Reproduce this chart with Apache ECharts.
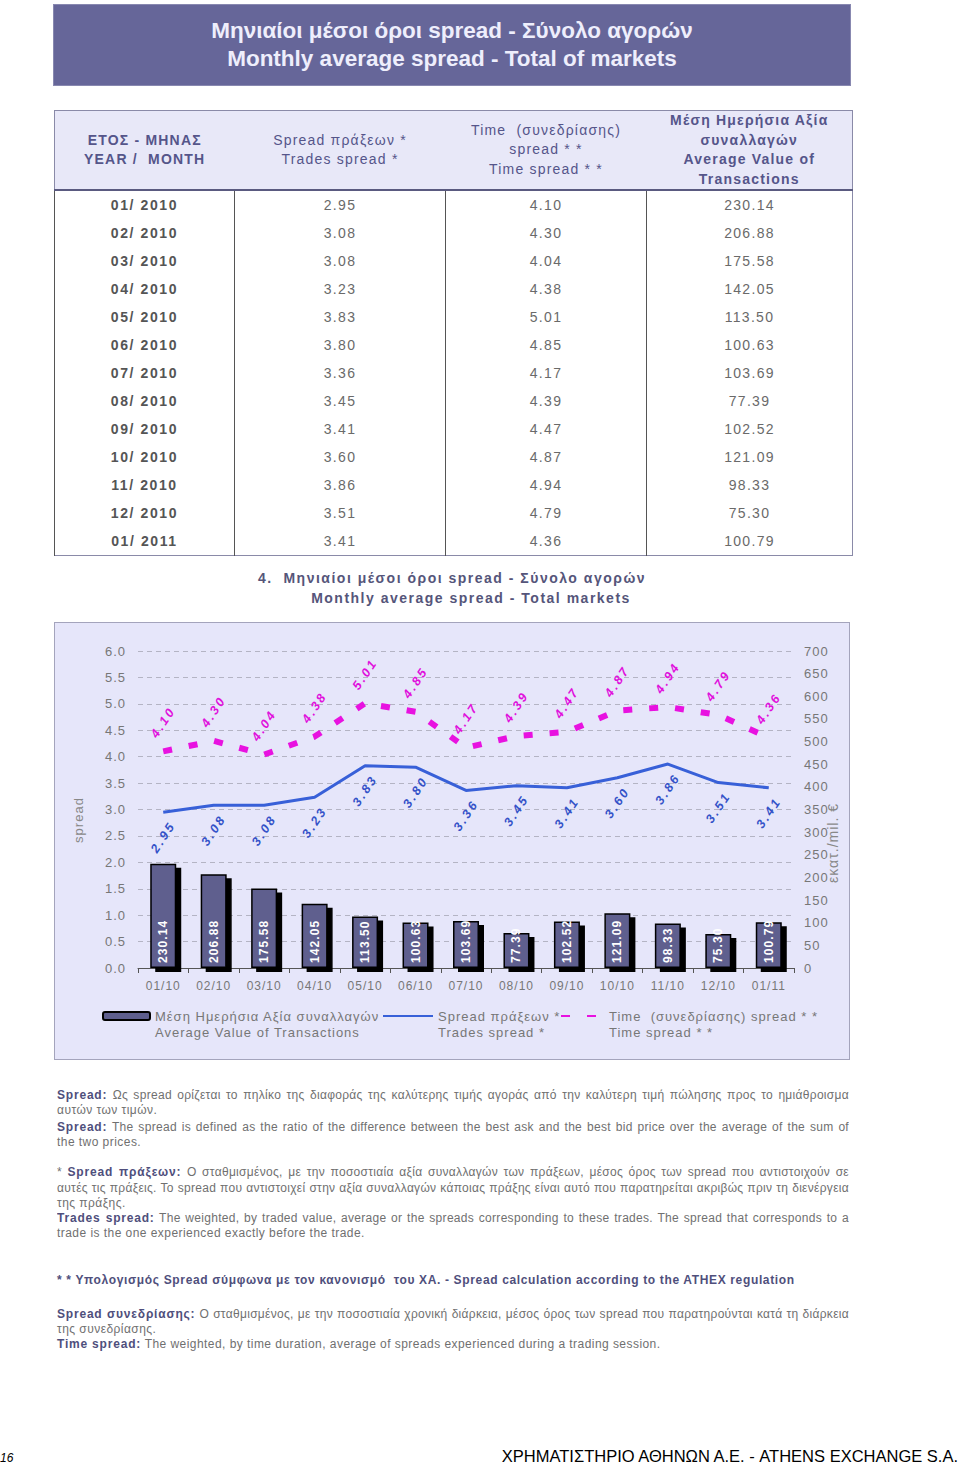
<!DOCTYPE html>
<html><head><meta charset="utf-8">
<script src="https://cdn.jsdelivr.net/npm/echarts@6/dist/echarts.min.js"></script>
<style>
body{margin:0;width:960px;height:1463px;position:relative;background:#fff;font-family:"Liberation Sans",Arial,sans-serif;overflow:hidden}
#title{position:absolute;left:54px;top:5px;width:796px;height:80px;background:#666699;color:#eeeefc;font-size:22.5px;font-weight:bold;line-height:28px;display:flex;flex-direction:column;justify-content:center;align-items:center;box-shadow:0 0 0 1px #8888b0}
#tbl{position:absolute;left:54px;top:110px;width:798px;border-collapse:collapse;table-layout:fixed;border:1.5px solid #8a8aa8}
#tbl th{height:78px;padding:0;background:#e8e8f8;color:#55558a;font-size:14px;font-weight:normal;letter-spacing:1.2px;line-height:19.5px;border-bottom:2px solid #5a5a80;vertical-align:middle}
#tbl th.b{font-weight:bold}
#tbl td{height:28px;padding:0;text-align:center;font-size:14px;letter-spacing:1.3px;color:#6a6a6a;border-left:1px solid #555;vertical-align:middle}
#tbl td.m{font-weight:bold;color:#555;letter-spacing:1.6px}
.ctitle{position:absolute;left:54px;width:796px;text-align:center;color:#55557a;font-size:14px;font-weight:bold;letter-spacing:1.5px;line-height:20px}
#cbox{position:absolute;left:54px;top:622px;width:796px;height:438px;box-sizing:border-box;background:#e6e6fa;border:1px solid #a4a4bc}
#chart{position:absolute;left:0;top:0;width:794px;height:436px}
#chart text{letter-spacing:1px}
#chart text[fill="#3452c8"],#chart text[fill="rgb(52,82,200)"],
#chart text[fill="#e010dc"],#chart text[fill="rgb(224,16,220)"]{letter-spacing:2.5px}
#chart text[fill="#fefefe"],#chart text[fill="rgb(254,254,254)"]{letter-spacing:1.1px}
.fl{position:absolute;left:57px;width:792px;font-size:12px;line-height:16px;color:#707070;white-space:nowrap;letter-spacing:0.45px}
.fl.j{text-align:justify;text-align-last:justify;white-space:normal;height:16px;overflow:hidden;letter-spacing:0.3px}
.fl b{color:#4f4f7c;letter-spacing:0.8px}
.fl b.n{letter-spacing:0.65px}
#pg{position:absolute;left:0;top:1451px;font-size:12px;font-style:italic;color:#000}
#ft{position:absolute;right:2px;top:1447px;font-size:16.5px;color:#000;letter-spacing:0}
</style></head><body>
<div id="title"><div>Μηνιαίοι μέσοι όροι spread - Σύνολο αγορών</div><div>Monthly average spread - Total of markets</div></div>
<table id="tbl">
<colgroup><col style="width:180px"><col style="width:211px"><col style="width:201px"><col style="width:206px"></colgroup>
<thead><tr>
<th class="b">ΕΤΟΣ - ΜΗΝΑΣ<br>YEAR /&nbsp; MONTH</th>
<th>Spread πράξεων *<br>Trades spread *</th>
<th>Time&nbsp; (συνεδρίασης)<br>spread * *<br>Time spread * *</th>
<th class="b">Μέση Ημερήσια Αξία<br>συναλλαγών<br>Average Value of<br>Transactions</th>
</tr></thead>
<tbody id="tb"></tbody>
</table>
<div class="ctitle" style="top:568px">4.&nbsp; Μηνιαίοι μέσοι όροι spread - Σύνολο αγορών</div>
<div class="ctitle" style="top:588px;padding-left:38px;box-sizing:border-box">Monthly average spread - Total markets</div>
<div id="cbox"><div id="chart"></div></div>

<div class="fl j" style="top:1087px"><b>Spread:</b> Ως spread ορίζεται το πηλίκο της διαφοράς της καλύτερης τιμής αγοράς από την καλύτερη τιμή πώλησης προς το ημιάθροισμα</div>
<div class="fl" style="top:1102px">αυτών των τιμών.</div>
<div class="fl j" style="top:1119px"><b>Spread:</b> The spread is defined as the ratio of the difference between the best ask and the best bid price over the average of the sum of</div>
<div class="fl" style="top:1134px">the two prices.</div>
<div class="fl j" style="top:1164px">* <b>Spread πράξεων:</b> Ο σταθμισμένος, με την ποσοστιαία αξία συναλλαγών των πράξεων, μέσος όρος των spread που αντιστοιχούν σε</div>
<div class="fl j" style="top:1180px">αυτές τις πράξεις. Το spread που αντιστοιχεί στην αξία συναλλαγών κάποιας πράξης είναι αυτό που παρατηρείται ακριβώς πριν τη διενέργεια</div>
<div class="fl" style="top:1195px">της πράξης.</div>
<div class="fl j" style="top:1210px"><b>Trades spread:</b> The weighted, by traded value, average or the spreads corresponding to these trades. The spread that corresponds to a</div>
<div class="fl" style="top:1225px">trade is the one experienced exactly before the trade.</div>
<div class="fl" style="top:1272px"><b class="n">* * Υπολογισμός Spread σύμφωνα με τον κανονισμό&nbsp; του ΧΑ. - Spread calculation according to the ATHEX regulation</b></div>
<div class="fl j" style="top:1306px"><b>Spread συνεδρίασης:</b> Ο σταθμισμένος, με την ποσοστιαία χρονική διάρκεια, μέσος όρος των spread που παρατηρούνται κατά τη διάρκεια</div>
<div class="fl" style="top:1321px">της συνεδρίασης.</div>
<div class="fl" style="top:1336px"><b>Time spread:</b> The weighted, by time duration, average of spreads experienced during a trading session.</div>
<div id="pg">16</div>
<div id="ft">ΧΡΗΜΑΤΙΣΤΗΡΙΟ ΑΘΗΝΩΝ Α.Ε. - ATHENS EXCHANGE S.A.</div>

<script>
const tableMonths = ['01/ 2010','02/ 2010','03/ 2010','04/ 2010','05/ 2010','06/ 2010','07/ 2010','08/ 2010','09/ 2010','10/ 2010','11/ 2010','12/ 2010','01/ 2011'];
const axisMonths = ['01/10','02/10','03/10','04/10','05/10','06/10','07/10','08/10','09/10','10/10','11/10','12/10','01/11'];
const tradesSpread = [2.95,3.08,3.08,3.23,3.83,3.80,3.36,3.45,3.41,3.60,3.86,3.51,3.41];
const timeSpread = [4.10,4.30,4.04,4.38,5.01,4.85,4.17,4.39,4.47,4.87,4.94,4.79,4.36];
const avgValue = [230.14,206.88,175.58,142.05,113.50,100.63,103.69,77.39,102.52,121.09,98.33,75.30,100.79];
const seriesNames = ['Μέση Ημερήσια Αξία συναλλαγών','Spread πράξεων *','Time  (συνεδρίασης) spread * *'];
const seriesNamesEn = ['Average Value of Transactions','Trades spread *','Time spread * *'];

// table
const tb = document.getElementById('tb');
tableMonths.forEach((m,i)=>{
  const tr = document.createElement('tr');
  [[m,'m'],[tradesSpread[i].toFixed(2),''],[timeSpread[i].toFixed(2),''],[avgValue[i].toFixed(2),'']].forEach(([t,c])=>{
    const td=document.createElement('td'); td.textContent=t; if(c) td.className=c; tr.appendChild(td);
  });
  tb.appendChild(tr);
});

const FF = '"Liberation Sans", Arial, sans-serif';
const enOf = n => seriesNamesEn[seriesNames.indexOf(n)];
const legendBase = {orient:'horizontal', padding:0, top:369, textStyle:{color:'#777', fontSize:13, lineHeight:16, fontFamily:FF},
  formatter: n => '\n' + n + '\n' + enOf(n)};

const chart = echarts.init(document.getElementById('chart'), null, {renderer:'svg', width:794, height:436});
chart.setOption({
  animation:false,
  textStyle:{fontFamily:FF},
  grid:{left:83, top:28, width:656, height:317},
  legend:[
    Object.assign({}, legendBase, {left:47, data:[seriesNames[0]], itemWidth:47, itemHeight:8}),
    Object.assign({}, legendBase, {left:327, data:[seriesNames[1]], itemWidth:50, itemHeight:12, itemStyle:{opacity:0}}),
    Object.assign({}, legendBase, {left:505, data:[seriesNames[2]], itemWidth:43, itemHeight:12, itemStyle:{opacity:0}})
  ],
  xAxis:{type:'category', data:axisMonths,
    axisLine:{lineStyle:{color:'#555', width:1}},
    axisTick:{show:true, length:5, lineStyle:{color:'#555'}},
    axisLabel:{color:'#777', fontSize:12, margin:12}},
  yAxis:[
    {type:'value', min:0, max:6, interval:0.5,
      axisLabel:{formatter:v=>v.toFixed(1), color:'#777', fontSize:13, margin:12},
      axisLine:{show:false}, axisTick:{show:false},
      splitLine:{lineStyle:{type:[5,4], color:'#b4b4c4'}}},
    {type:'value', min:0, max:700, interval:50, position:'right',
      axisLabel:{color:'#777', fontSize:13, margin:10},
      axisLine:{show:false}, axisTick:{show:false}, splitLine:{show:false}}
  ],
  graphic:[
    {type:'text', x:23, y:197, rotation:Math.PI/2,
      style:{text:'spread', fill:'#888', fontSize:13, fontFamily:FF, align:'center', verticalAlign:'middle'}},
    {type:'text', x:778, y:220, rotation:Math.PI/2,
      style:{text:'εκατ./mil. €', fill:'#888', fontSize:14, fontFamily:FF, align:'center', verticalAlign:'middle'}}
  ],
  series:[
    {name:seriesNames[0], type:'bar', yAxisIndex:1, data:avgValue, barWidth:26,
      itemStyle:{color:'#5e5e8e', borderColor:'#000', borderWidth:1.5, shadowColor:'#000', shadowOffsetX:5, shadowOffsetY:4, shadowBlur:0},
      label:{show:true, position:'insideBottom', rotate:90, align:'left', verticalAlign:'middle', distance:5,
        color:'#fefefe', fontWeight:'bold', fontSize:12, formatter:p=>p.value.toFixed(2)}},
    {name:seriesNames[1], type:'line', yAxisIndex:0, data:tradesSpread, symbol:'circle', symbolSize:0.1, showSymbol:true,
      lineStyle:{color:'#3860d8', width:3}, itemStyle:{color:'#3860d8'},
      label:{show:true, position:'bottom', distance:25, rotate:56, align:'center', verticalAlign:'middle',
        color:'#3452c8', fontStyle:'italic', fontWeight:'bold', fontSize:12.5, formatter:p=>p.value.toFixed(2)}},
    {name:seriesNames[2], type:'line', yAxisIndex:0, data:timeSpread, symbol:'circle', symbolSize:0.1, showSymbol:true,
      lineStyle:{color:'#e812e0', width:6, type:[9,17], cap:'butt'}, itemStyle:{color:'#e812e0'},
      label:{show:true, position:'top', distance:29, rotate:56, align:'center', verticalAlign:'middle',
        color:'#e010dc', fontStyle:'italic', fontWeight:'bold', fontSize:12.5, formatter:p=>p.value.toFixed(2)}}
  ]
});
</script>
</body></html>
